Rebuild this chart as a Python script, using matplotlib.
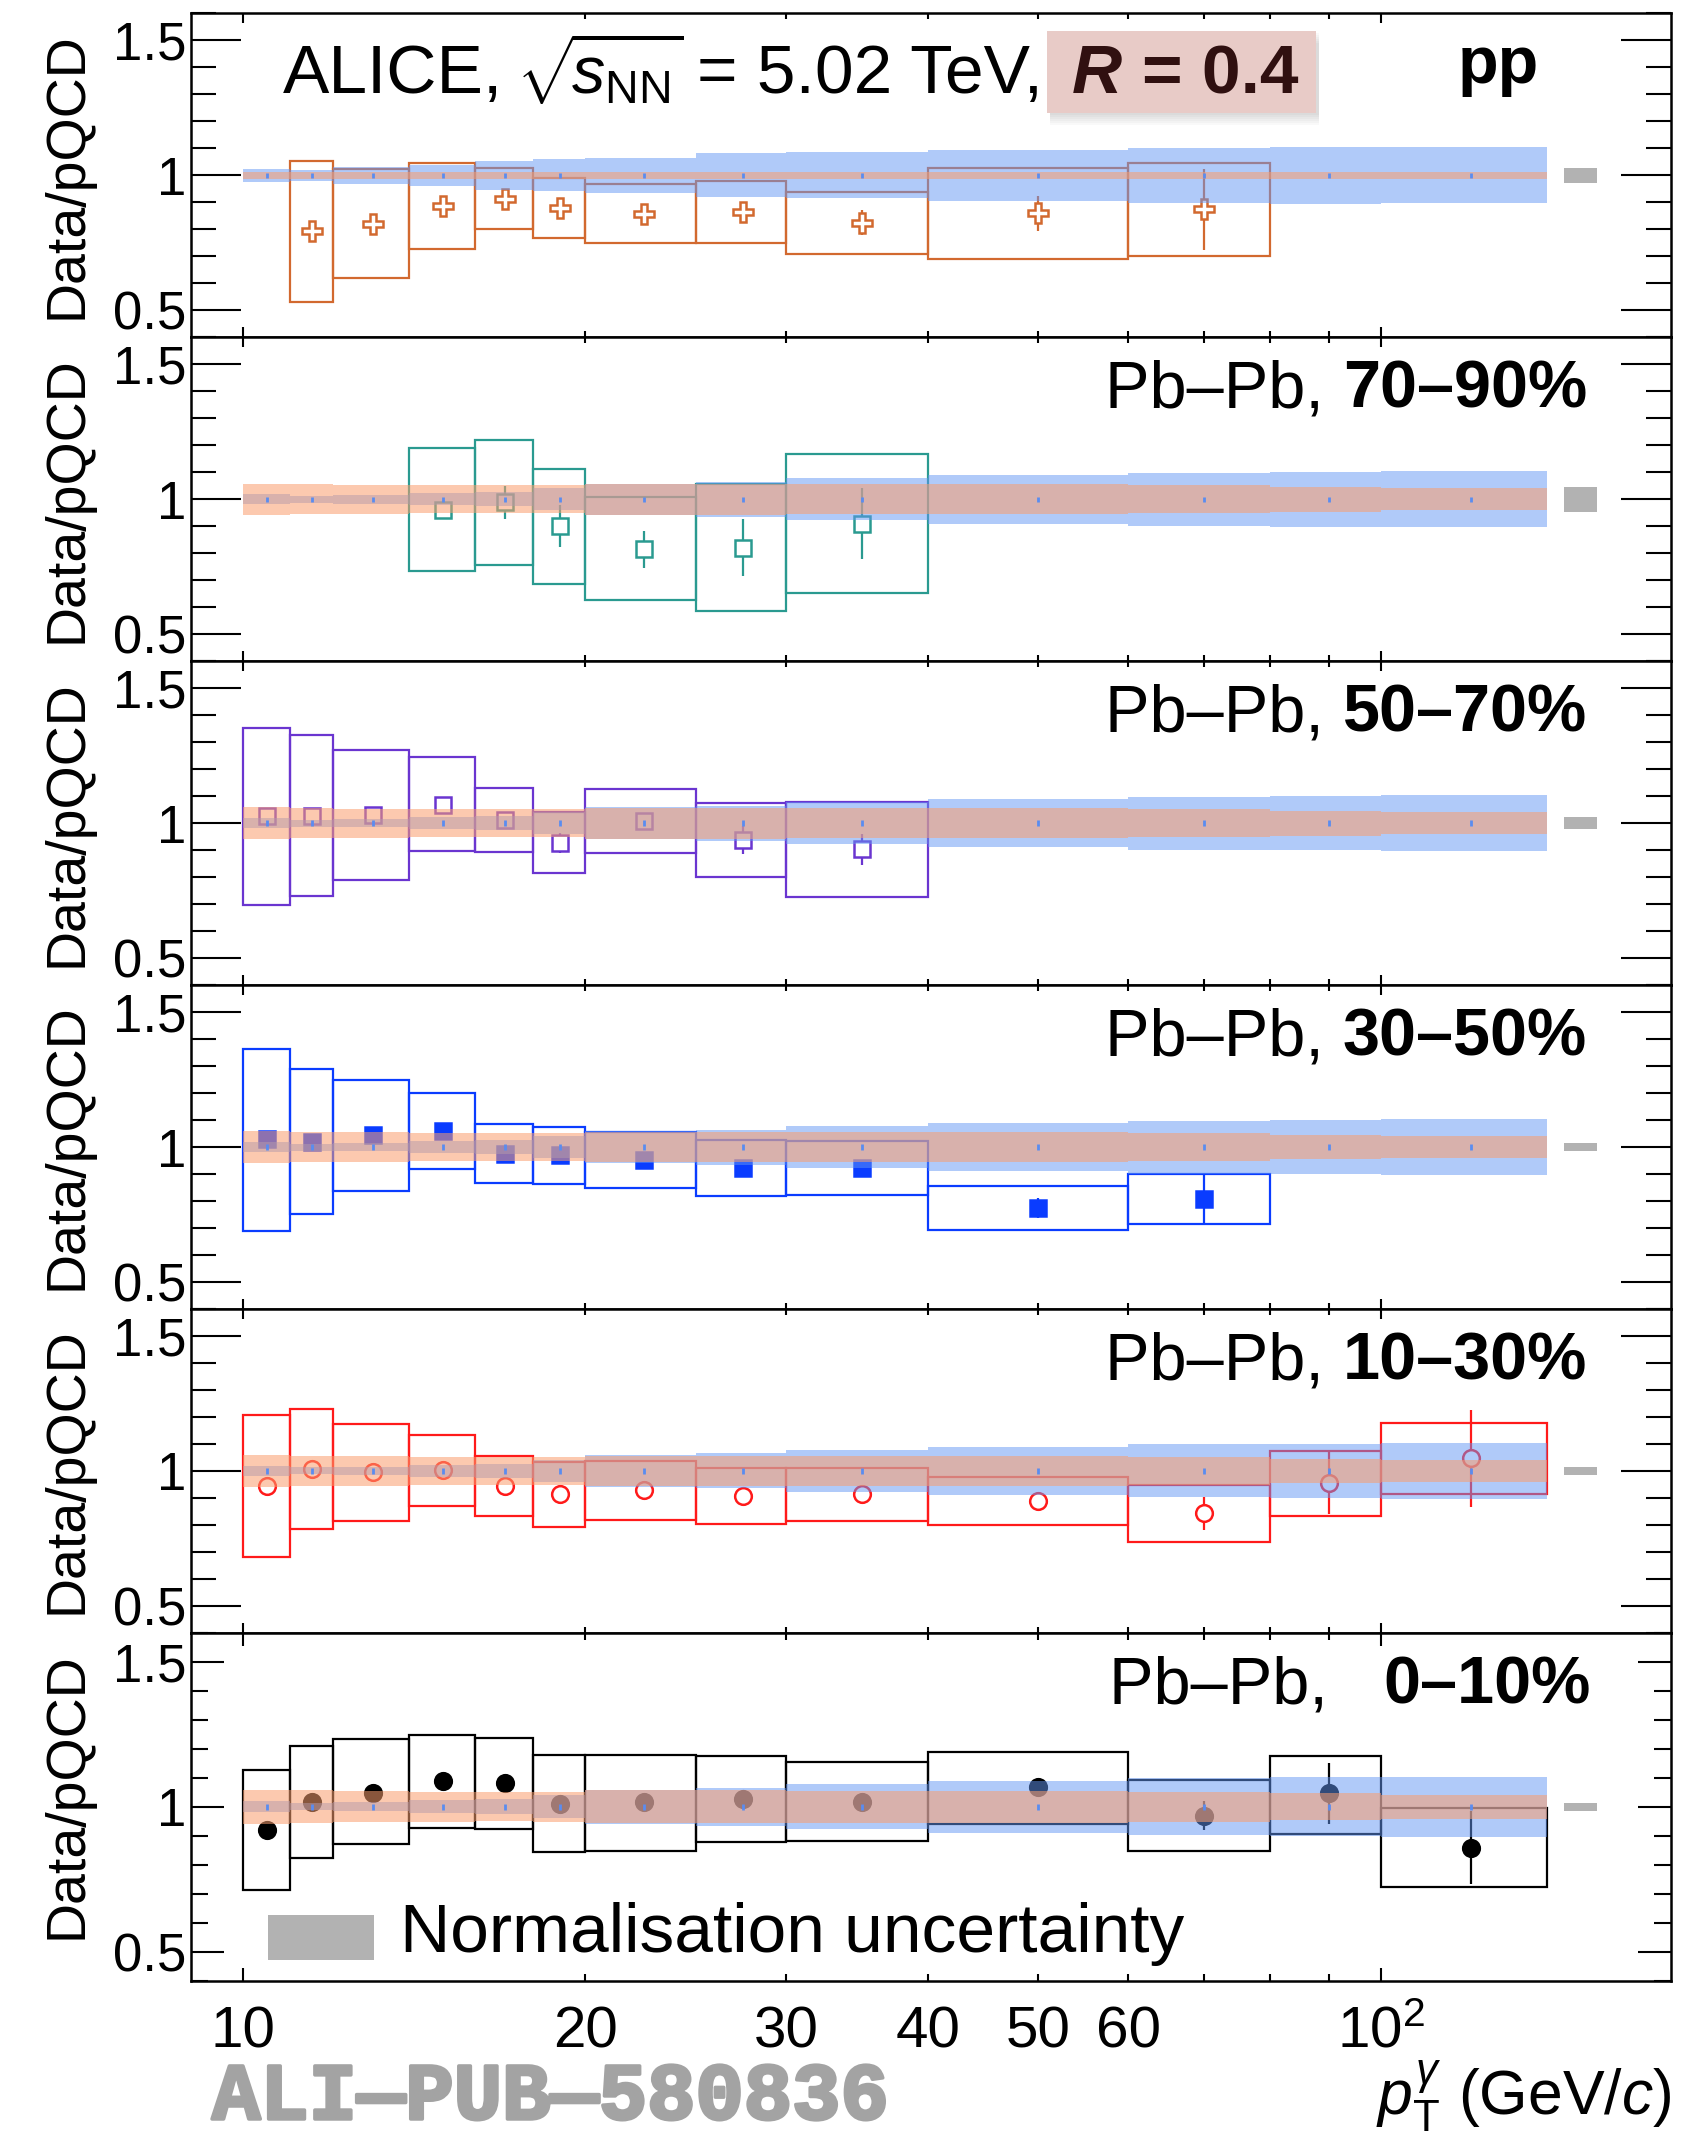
import numpy as np
import matplotlib
matplotlib.use('Agg')
import matplotlib.pyplot as plt
import matplotlib.patheffects as pe
from matplotlib.patches import Rectangle

plt.rcParams['font.family'] = ['Liberation Sans', 'DejaVu Sans']
plt.rcParams['mathtext.fontset'] = 'custom'
plt.rcParams['mathtext.rm'] = 'Liberation Sans'
plt.rcParams['mathtext.it'] = 'Liberation Sans:italic'
plt.rcParams['mathtext.bf'] = 'Liberation Sans:bold'

# photon pT bins (GeV/c)
pt_edges = [10, 11, 12, 14, 16, 18, 20, 25, 30, 40, 60, 80, 100, 140]

# pQCD uncertainty bands (half widths around 1), one value per bin
pp_scale_unc = [0.023, 0.020, 0.032, 0.040, 0.055, 0.059, 0.066, 0.082, 0.085, 0.095, 0.102, 0.105, 0.104]
pp_pdf_unc = [0.012, 0.012, 0.012, 0.012, 0.012, 0.012, 0.012, 0.012, 0.012, 0.012, 0.012, 0.012, 0.012]
pbpb_scale_unc = [0.019, 0.013, 0.016, 0.022, 0.026, 0.040, 0.058, 0.065, 0.078, 0.090, 0.098, 0.101, 0.103]
pbpb_npdf_unc = [0.058, 0.056, 0.054, 0.052, 0.051, 0.052, 0.057, 0.057, 0.055, 0.055, 0.052, 0.046, 0.041]
theory_stat = [0.01, 0.01, 0.01, 0.01, 0.01, 0.01, 0.01, 0.01, 0.01, 0.01, 0.01, 0.01, 0.01]

# data / pQCD per system: first bin index, ratio, stat. error, syst. box low/high
pp_first = 1
pp_ratio = [0.792, 0.820, 0.885, 0.913, 0.880, 0.857, 0.864, 0.825, 0.859, 0.875]
pp_stat = [0.012, 0.012, 0.015, 0.018, 0.020, 0.020, 0.022, 0.045, 0.066, 0.150]
pp_sys_lo = [0.530, 0.621, 0.727, 0.802, 0.768, 0.748, 0.748, 0.708, 0.689, 0.701]
pp_sys_hi = [1.053, 1.024, 1.045, 1.027, 0.989, 0.968, 0.978, 0.938, 1.027, 1.047]

c7090_first = 3
c7090_ratio = [0.962, 0.988, 0.900, 0.815, 0.820, 0.910]
c7090_stat = [0.015, 0.060, 0.077, 0.068, 0.105, 0.130]
c7090_sys_lo = [0.736, 0.757, 0.686, 0.625, 0.587, 0.651]
c7090_sys_hi = [1.191, 1.219, 1.113, 1.009, 1.058, 1.168]

c5070_first = 0
c5070_ratio = [1.025, 1.026, 1.031, 1.068, 1.011, 0.927, 1.009, 0.937, 0.903]
c5070_stat = [0.020, 0.020, 0.020, 0.025, 0.025, 0.036, 0.030, 0.052, 0.058]
c5070_sys_lo = [0.696, 0.731, 0.789, 0.895, 0.893, 0.814, 0.890, 0.800, 0.726]
c5070_sys_hi = [1.352, 1.326, 1.270, 1.244, 1.131, 1.040, 1.125, 1.074, 1.079]

c3050_first = 0
c3050_ratio = [1.030, 1.019, 1.045, 1.058, 0.974, 0.970, 0.952, 0.922, 0.922, 0.773, 0.807]
c3050_stat = [0.015, 0.015, 0.015, 0.015, 0.015, 0.015, 0.015, 0.015, 0.015, 0.037, 0.093]
c3050_sys_lo = [0.690, 0.752, 0.839, 0.918, 0.866, 0.864, 0.850, 0.820, 0.823, 0.691, 0.714]
c3050_sys_hi = [1.363, 1.289, 1.249, 1.200, 1.087, 1.074, 1.055, 1.025, 1.022, 0.854, 0.900]

c1030_first = 0
c1030_ratio = [0.945, 1.006, 0.996, 1.004, 0.945, 0.915, 0.929, 0.908, 0.913, 0.888, 0.843, 0.957, 1.047]
c1030_stat = [0.020, 0.020, 0.020, 0.020, 0.020, 0.020, 0.020, 0.020, 0.025, 0.030, 0.060, 0.115, 0.180]
c1030_sys_lo = [0.683, 0.786, 0.815, 0.870, 0.833, 0.794, 0.818, 0.802, 0.813, 0.799, 0.735, 0.834, 0.915]
c1030_sys_hi = [1.207, 1.228, 1.175, 1.135, 1.057, 1.032, 1.037, 1.010, 1.012, 0.976, 0.947, 1.073, 1.176]

c010_first = 0
c010_ratio = [0.919, 1.017, 1.049, 1.090, 1.081, 1.010, 1.015, 1.025, 1.017, 1.067, 0.969, 1.046, 0.859]
c010_stat = [0.015, 0.015, 0.015, 0.015, 0.015, 0.015, 0.015, 0.020, 0.020, 0.030, 0.049, 0.104, 0.125]
c010_sys_lo = [0.712, 0.822, 0.870, 0.928, 0.922, 0.842, 0.848, 0.878, 0.883, 0.942, 0.848, 0.907, 0.722]
c010_sys_hi = [1.127, 1.210, 1.232, 1.247, 1.238, 1.178, 1.178, 1.175, 1.154, 1.190, 1.092, 1.175, 0.997]

# normalisation uncertainty per panel (pp, 70-90, 50-70, 30-50, 10-30, 0-10)
norm_unc = [0.027, 0.046, 0.022, 0.015, 0.014, 0.014]

W_PX, H_PX = 1692, 2141
fig = plt.figure(figsize=(W_PX / 100, H_PX / 100), dpi=100)


def fx(px):
    return px / W_PX


def fy(py):
    return 1 - py / H_PX


panel_tops = [13.4, 337.3, 661.2, 985.1, 1309.0, 1632.9, 1980.5]
AX_L, AX_R = 191, 1671

panels = [
    # label, bold part, first, ratio, stat, lo, hi, color, marker, filled, ms, scale, pdf
    ('pp', None, pp_first, pp_ratio, pp_stat, pp_sys_lo, pp_sys_hi, '#D2692F', 'P', False, 14, pp_scale_unc, pp_pdf_unc),
    ('Pb–Pb, ', '70–90%', c7090_first, c7090_ratio, c7090_stat, c7090_sys_lo, c7090_sys_hi, '#2A9A90', 's', False, 12, pbpb_scale_unc, pbpb_npdf_unc),
    ('Pb–Pb, ', '50–70%', c5070_first, c5070_ratio, c5070_stat, c5070_sys_lo, c5070_sys_hi, '#6A35D0', 's', False, 12, pbpb_scale_unc, pbpb_npdf_unc),
    ('Pb–Pb, ', '30–50%', c3050_first, c3050_ratio, c3050_stat, c3050_sys_lo, c3050_sys_hi, '#0A3CFF', 's', True, 12, pbpb_scale_unc, pbpb_npdf_unc),
    ('Pb–Pb, ', '10–30%', c1030_first, c1030_ratio, c1030_stat, c1030_sys_lo, c1030_sys_hi, '#FF1A1A', 'o', False, 12, pbpb_scale_unc, pbpb_npdf_unc),
    ('Pb–Pb,   ', '0–10%', c010_first, c010_ratio, c010_stat, c010_sys_lo, c010_sys_hi, 'black', 'o', True, 12, pbpb_scale_unc, pbpb_npdf_unc),
]

edges = np.array(pt_edges, dtype=float)
bin_w = np.diff(edges)
bin_c = 0.5 * (edges[:-1] + edges[1:])
renderer = fig.canvas.get_renderer()

for i, (lab, lab_bold, first, ratio, stat, lo, hi, col, mk, filled, ms, scale, pdf) in enumerate(panels):
    top, bot = panel_tops[i], panel_tops[i + 1]
    last = i == len(panels) - 1
    ax = fig.add_axes([fx(AX_L), fy(bot), fx(AX_R - AX_L), (bot - top) / H_PX])
    ax.set_xscale('log')
    ax.set_xlim(9, 180)
    ax.set_ylim(0.4, 1.6)

    n = len(ratio)
    lo_e = edges[first:first + n]
    w = bin_w[first:first + n]
    cen = bin_c[first:first + n]
    lo = np.array(lo)
    hi = np.array(hi)

    # systematic boxes, stat errors, markers
    ax.bar(lo_e, hi - lo, width=w, bottom=lo, align='edge', fill=False,
           edgecolor=col, linewidth=1.6, zorder=2)
    ax.errorbar(cen, ratio, yerr=stat, fmt=mk, ms=ms, mfc=col if filled else 'white',
                mec=col, mew=1.8, ecolor=col, elinewidth=1.6, capsize=0, zorder=3)

    # pQCD bands drawn on top
    sc = np.array(scale)
    pd = np.array(pdf)
    ax.bar(edges[:-1], 2 * sc, width=bin_w, bottom=1 - sc, align='edge',
           color=(0.39, 0.59, 0.96), alpha=0.5, linewidth=0, zorder=4)
    ax.bar(edges[:-1], 2 * pd, width=bin_w, bottom=1 - pd, align='edge',
           color=(0.98, 0.62, 0.43), alpha=0.55, linewidth=0, zorder=5)
    ax.errorbar(bin_c, np.ones(len(bin_c)), yerr=theory_stat, fmt='none',
                ecolor='#5A8CF0', elinewidth=2, zorder=6)

    # normalisation box
    nu = norm_unc[i]
    ax.bar(145, 2 * nu, width=10, bottom=1 - nu, align='edge', color='#B2B2B2',
           linewidth=0, zorder=6)

    # axes styling
    for sp in ax.spines.values():
        sp.set_linewidth(1.8)
    ax.set_yticks([0.5, 1.0, 1.5])
    ax.set_yticklabels(['0.5', '1', '1.5'], fontsize=38)
    ax.set_yticks(np.arange(0.4, 1.61, 0.1), minor=True)
    ax.set_xticks([10, 100])
    ax.set_xticks([20, 30, 40, 50, 60, 70, 80, 90], minor=True)
    ylen = (24, 12) if last else (36, 18)
    xlen = (9.5, 5) if last else (7, 4.5)
    ax.tick_params(which='both', direction='in', left=True, right=True, top=True, bottom=True, width=1.5)
    ax.tick_params(axis='y', which='major', length=ylen[0], pad=3)
    ax.tick_params(axis='y', which='minor', length=ylen[1])
    ax.tick_params(axis='x', which='major', length=xlen[0])
    ax.tick_params(axis='x', which='minor', length=xlen[1])
    if last:
        ax.set_xticklabels(['10', ''], fontsize=42)
        ax.set_xticklabels(['20', '30', '40', '50', '60', '', '', ''], minor=True, fontsize=42)
        ax.tick_params(axis='x', which='both', pad=18)
    else:
        ax.set_xticklabels(['', ''])
        ax.set_xticklabels([''] * 8, minor=True)

    # y title
    ymid = 1796 if last else 0.5 * (top + bot)
    fig.text(fx(68), fy(ymid), 'Data/pQCD', rotation=90, ha='center',
             va='center', fontsize=40)

    # panel label
    base = fy(top + 70.5)
    if lab_bold is None:
        fig.text(fx(1539), fy(top + 69.6), lab, ha='right', va='baseline', fontsize=48,
                 fontweight='bold')
    else:
        xr = 1591 if last else 1587
        tb = fig.text(fx(xr), base, lab_bold, ha='right', va='baseline', fontsize=48,
                      fontweight='bold')
        bb = tb.get_window_extent(renderer=renderer)
        fig.text(bb.x0 / W_PX, base, lab, ha='right', va='baseline', fontsize=48)

# header
fig.text(fx(283), fy(93), 'ALICE,', ha='left', va='baseline', fontsize=50)
fig.text(fx(516), fy(93), r'$\sqrt{\!s_{\mathrm{NN}}}$', ha='left', va='baseline', fontsize=48)
fig.text(fx(1043), fy(93), '= 5.02 TeV,', ha='right', va='baseline', fontsize=50)
for k in range(6):
    fig.patches.append(Rectangle((fx(1047 + 3), fy(113 + 2 + 2 * k)), fx(1316 - 1047),
                                 (113 - 31) / H_PX, transform=fig.transFigure,
                                 color='black', alpha=0.025, linewidth=0, zorder=1))
fig.patches.append(Rectangle((fx(1047), fy(113)), fx(1316 - 1047), (113 - 31) / H_PX,
                             transform=fig.transFigure, color='#E8CBC7', linewidth=0, zorder=2))
fig.text(fx(1072), fy(93), 'R', ha='left', va='baseline', fontsize=50, fontweight='bold',
         style='italic', color='#301010', zorder=3)
fig.text(fx(1298), fy(93), '= 0.4', ha='right', va='baseline', fontsize=50,
         fontweight='bold', color='#301010', zorder=3)

# normalisation legend
fig.patches.append(Rectangle((fx(268), fy(1960)), fx(374 - 268), (1960 - 1915) / H_PX,
                             transform=fig.transFigure, color='#B2B2B2', linewidth=0))
fig.text(fx(400), fy(1952), 'Normalisation uncertainty', ha='left', va='baseline', fontsize=50)

# x axis extras
fig.text(fx(1381), fy(2048), r'$10^{2}$', ha='center', va='baseline', fontsize=42)
fig.text(fx(1671), fy(2115), r'$p_{\mathrm{T}}^{\gamma}$ (GeV/$c$)', ha='right',
         va='baseline', fontsize=45)
fig.text(fx(212), fy(2119), 'ALI—PUB—580836', ha='left', va='baseline', fontsize=58,
         fontweight='bold', family='Liberation Mono', color='#A3A3A3',
         path_effects=[pe.withStroke(linewidth=2.5, foreground='#A3A3A3')])

fig.savefig('out.png', dpi=100)
